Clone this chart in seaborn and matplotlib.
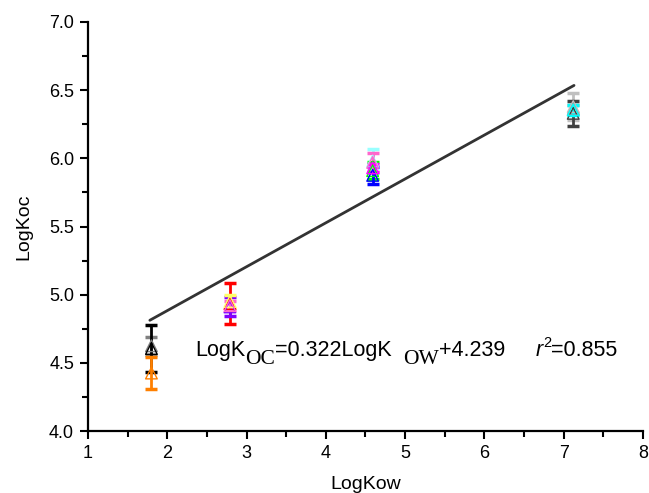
import matplotlib
matplotlib.use("Agg")
import matplotlib.pyplot as plt
import seaborn as sns
import numpy as np
from matplotlib.ticker import MultipleLocator, FormatStrFormatter

# ---- data ----
logkow = [1.8, 1.8, 1.8,
          2.79, 2.79, 2.79, 2.79,
          4.59, 4.59, 4.59, 4.59, 4.59,
          7.12, 7.12, 7.12, 7.12]
logkoc = [4.625, 4.605, 4.425,
          4.935, 4.91, 4.95, 4.92,
          5.98, 5.97, 5.91, 5.875, 5.93,
          6.38, 6.33, 6.36, 6.355]
errors = [0.065, 0.175, 0.115,
          0.15, 0.07, 0.05, 0.03,
          0.09, 0.07, 0.06, 0.065, 0.03,
          0.10, 0.09, 0.03, 0.035]
colors = ["#808080", "#000000", "#FF8000",
          "#FF0000", "#8000FF", "#FFFF66", "#FF66CC",
          "#99FFFF", "#FF66CC", "#00FF00", "#0000FF", "#FF00FF",
          "#C0C0C0", "#404040", "#A0A0A0", "#00FFFF"]
slope = 0.322
intercept = 4.239
fit_range = [1.78, 7.13]
x_ticks = [1, 2, 3, 4, 5, 6, 7, 8]
y_ticks = [4.0, 4.5, 5.0, 5.5, 6.0, 6.5, 7.0]

sns.set_theme(style="ticks")
plt.rcParams["font.family"] = ["Liberation Sans", "DejaVu Sans"]
plt.rcParams["text.color"] = "black"
plt.rcParams["axes.labelcolor"] = "black"
plt.rcParams["xtick.color"] = "black"
plt.rcParams["ytick.color"] = "black"

W, H = 649, 493
fig = plt.figure(figsize=(W / 100, H / 100), dpi=100)
ax = fig.add_axes([88 / W, 1 - 431 / H, (643 - 88) / W, (431 - 22) / H])

# regression line
fx = np.array(fit_range)
sns.lineplot(x=fx, y=slope * fx + intercept, ax=ax, color="#333333", lw=2.0)

# error bars + open triangles
for x, y, e, c in zip(logkow, logkoc, errors, colors):
    ax.errorbar(x, y, yerr=e, fmt="none", ecolor=c, elinewidth=2,
                capsize=4.5, capthick=2.5, zorder=3)
    sns.scatterplot(x=[x], y=[y], ax=ax, marker="^", s=70,
                    facecolor="none", edgecolor=c, linewidth=1.0, zorder=4)

# equation, built piece by piece at fixed baselines (pixel coords from top)
fs = 15.5
base = 356
sub = 364
pieces = [
    # text, family, style, size, gap_before_px, baseline_px
    ("LogK", "Liberation Sans", "normal", fs, 0, base),
    ("OC", "Liberation Serif", "normal", fs, 0, sub),
    ("=0.322LogK", "Liberation Sans", "normal", fs, 0, base),
    ("OW", "Liberation Serif", "normal", fs, 12, sub),
    ("+4.239", "Liberation Sans", "normal", fs, 0, base),
    ("r", "Liberation Sans", "italic", fs, 30, base),
    ("2", "Liberation Sans", "normal", 10.5, 0, base - 9),
    ("=0.855", "Liberation Sans", "normal", fs, 0, base),
]
renderer = fig.canvas.get_renderer()
xpos = 195
for txt, fam, sty, size, gap, bl in pieces:
    xpos += gap
    t = fig.text(xpos / W, 1 - bl / H, txt, fontsize=size, family=fam, style=sty,
                 va="baseline", ha="left", color="black")
    bb = t.get_window_extent(renderer=renderer)
    xpos += bb.width

ax.set_xlim(1, 8)
ax.set_ylim(4.0, 7.0)
ax.set_xticks(x_ticks)
ax.set_yticks(y_ticks)
ax.xaxis.set_minor_locator(MultipleLocator(0.5))
ax.yaxis.set_minor_locator(MultipleLocator(0.25))
ax.yaxis.set_major_formatter(FormatStrFormatter("%.1f"))
ax.xaxis.set_major_formatter(FormatStrFormatter("%d"))
ax.tick_params(axis="both", which="major", direction="out", length=6, width=1.5,
               labelsize=13, colors="black", pad=4)
ax.tick_params(axis="both", which="minor", direction="out", length=4, width=1.5)
for s in ["top", "right"]:
    ax.spines[s].set_visible(False)
for s in ["left", "bottom"]:
    ax.spines[s].set_linewidth(1.6)
    ax.spines[s].set_color("black")
ax.set_xlabel("LogKow", fontsize=14, labelpad=10)
ax.set_ylabel("LogKoc", fontsize=14, labelpad=12)

fig.savefig("out.png", dpi=100)
